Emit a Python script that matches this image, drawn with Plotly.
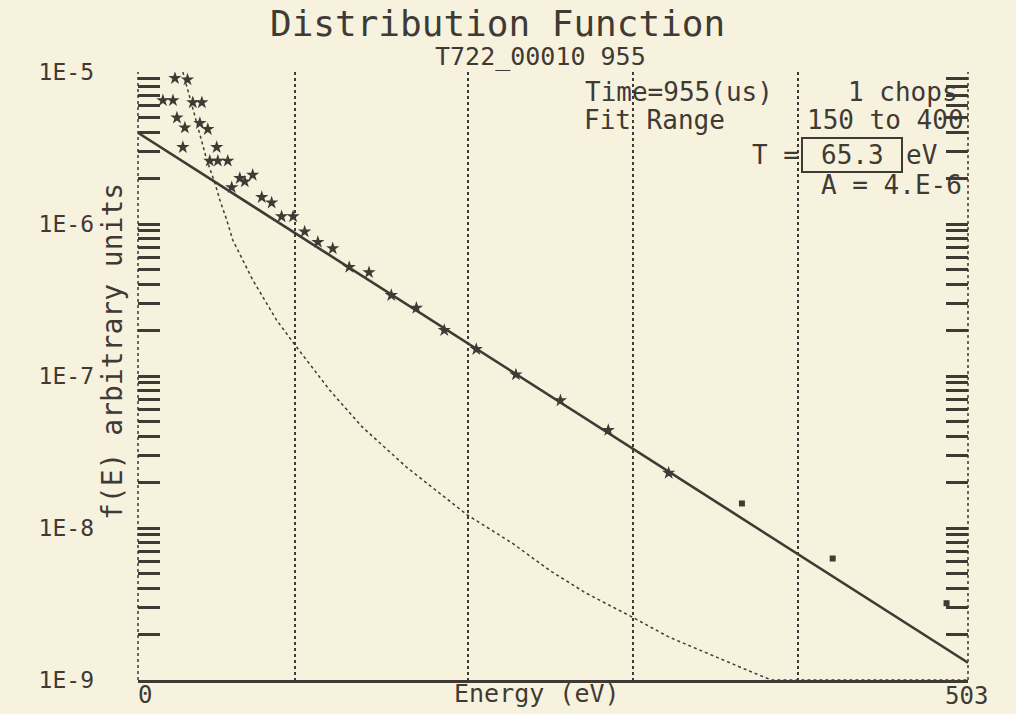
import plotly.graph_objects as go

# ---------------- data ----------------
# measured points (asterisks), energy in eV and f(E) in arbitrary units
star_E = [22.4, 30.0, 15.1, 21.2, 33.2, 38.7, 23.6, 28.4, 37.5, 42.3, 27.2, 47.7,
          43.5, 48.4, 54.4, 56.8, 61.7, 64.7, 69.5, 75.0, 81.0, 87.0, 94.0, 101.0,
          109.0, 118.0, 128.0, 140.0, 153.5, 168.7, 185.6, 205.0, 229.0, 256.0,
          285.0, 321.6]
star_f = [9.1e-6, 8.9e-6, 6.5e-6, 6.5e-6, 6.3e-6, 6.3e-6, 5.0e-6, 4.3e-6, 4.6e-6, 4.2e-6,
          3.2e-6, 3.2e-6, 2.6e-6, 2.6e-6, 2.6e-6, 1.74e-6, 2.0e-6, 1.9e-6, 2.1e-6, 1.5e-6,
          1.38e-6, 1.12e-6, 1.12e-6, 8.9e-7, 7.6e-7, 6.9e-7, 5.2e-7, 4.8e-7, 3.4e-7,
          2.8e-7, 2.0e-7, 1.5e-7, 1.02e-7, 6.9e-8, 4.4e-8, 2.3e-8]
# points outside the fit range (small squares)
sq_E = [366.0, 421.0, 490.0]
sq_f = [1.45e-8, 6.3e-9, 3.2e-9]

# exponential fit line (end points)
fit_E = [0, 503]
fit_f = [3.98e-6, 1.3e-9]

# dotted reference curve
curve_E = [27.2, 34.5, 41.7, 46.6, 49.6, 53.8, 57.4, 69.5, 84.0, 96.1, 116.1, 136.0,
           162.6, 182.6, 199.5, 226.7, 243.0, 250.9, 271.5, 300.5, 321.6, 344.0,
           371.8, 383.9, 503.0]
curve_f = [1.0e-5, 5.06e-6, 2.64e-6, 1.86e-6, 1.44e-6, 1.06e-6, 7.85e-7, 4.29e-7,
           2.33e-7, 1.55e-7, 8.09e-8, 4.61e-8, 2.52e-8, 1.70e-8, 1.22e-8, 7.96e-9,
           5.89e-9, 5.14e-9, 3.73e-9, 2.56e-9, 1.92e-9, 1.51e-9, 1.13e-9, 1.0e-9,
           1.0e-9]

grid_E = [95, 200, 300, 400]
decades = [1e-9, 1e-8, 1e-7, 1e-6, 1e-5]
decade_labels = ["1E-9", "1E-8", "1E-7", "1E-6", "1E-5"]
minor_vals = [k * d for d in decades[:-1] for k in range(2, 10)]

INK = "#3f3a34"
BG = "#f7f2de"
FONT = "DejaVu Sans Mono"

fig = go.Figure()
fig.add_trace(go.Scatter(x=curve_E, y=curve_f, mode="lines",
                         line=dict(color=INK, width=1.5, dash="dot"),
                         hoverinfo="skip", showlegend=False))
fig.add_trace(go.Scatter(x=fit_E, y=fit_f, mode="lines",
                         line=dict(color=INK, width=2.6),
                         hoverinfo="skip", showlegend=False))
fig.add_trace(go.Scatter(x=star_E, y=star_f, mode="markers",
                         marker=dict(symbol="star", size=10, color=INK),
                         showlegend=False))
fig.add_trace(go.Scatter(x=sq_E, y=sq_f, mode="markers",
                         marker=dict(symbol="square", size=6, color=INK),
                         showlegend=False))
# invisible trace to carry the right-hand axis
fig.add_trace(go.Scatter(x=[fit_E[0]], y=[fit_f[0]], yaxis="y2", mode="markers",
                         marker=dict(opacity=0), hoverinfo="skip", showlegend=False))

L, R, T, B = 138, 48, 72, 34
W, H = 1016, 714
pw, ph = W - L - R, H - T - B


def px(x):
    return (x - L) / pw


def py(y):
    return (H - B - y) / ph


fig.update_layout(
    width=W, height=H,
    margin=dict(l=L, r=R, t=T, b=B),
    paper_bgcolor=BG, plot_bgcolor=BG,
    font=dict(family=FONT, color=INK),
    xaxis=dict(range=[0, 503], tickvals=grid_E, showticklabels=False, ticks="",
               showgrid=True, gridcolor=INK, griddash="dot", gridwidth=1.5,
               zeroline=False, showline=True, linecolor=INK, linewidth=2.5),
    yaxis=dict(type="log", range=[-9, -5], tickvals=decades, ticktext=decade_labels,
               ticks="inside", ticklen=22, tickwidth=2.5, tickcolor=INK,
               ticklabelstandoff=43, tickfont=dict(size=23, family=FONT, color=INK),
               minor=dict(tickvals=minor_vals, ticks="inside", ticklen=22,
                          tickwidth=2.5, tickcolor=INK, showgrid=False),
               showgrid=False, zeroline=False, showline=False),
    yaxis2=dict(type="log", range=[-9, -5], overlaying="y", side="right",
                tickvals=decades, showticklabels=False,
                ticks="inside", ticklen=22, tickwidth=2.5, tickcolor=INK,
                minor=dict(tickvals=minor_vals, ticks="inside", ticklen=22,
                           tickwidth=2.5, tickcolor=INK, showgrid=False),
                showgrid=False, zeroline=False, showline=False),
)

# dotted side frame lines
for xx in (0, 1):
    fig.add_shape(type="line", xref="paper", yref="paper", x0=xx, x1=xx, y0=0, y1=1,
                  line=dict(color=INK, width=1.5, dash="dot"))

# box round the temperature value
fig.add_shape(type="rect", xref="paper", yref="paper",
              x0=px(802), x1=px(902), y0=py(172), y1=py(138),
              line=dict(color=INK, width=2))


def ann(text, x, y, size, xanchor="center", textangle=0):
    fig.add_annotation(text=text, xref="paper", yref="paper", x=px(x), y=py(y),
                       xanchor=xanchor, yanchor="middle", showarrow=False,
                       textangle=textangle,
                       font=dict(family=FONT, size=size, color=INK))


ann("Distribution Function", 497, 24, 36)
ann("T722_00010 955", 540, 57, 25)
ann("Time=955(us)", 583, 92, 26, "left")
ann("1 chops", 960, 92, 26, "right")
ann("Fit Range", 582, 120, 26, "left")
ann("150 to 400", 966, 120, 26, "right")
ann("T =", 750, 155, 26, "left")
ann("65.3", 852, 155, 26)
ann("eV", 904, 155, 26, "left")
ann("A = 4.E-6", 964, 185, 26, "right")
ann("f(E) arbitrary units", 112, 352, 28, textangle=-90)
ann("Energy (eV)", 537, 693, 25)
ann("0", 145, 695, 24)
ann("503", 966, 696, 24)

fig.write_html(
    "out.html",
    config={"displayModeBar": False},
    post_script="document.body.style.margin='0';"
                "document.body.style.background='#f7f2de';"
                "document.body.style.overflow='hidden';",
)
